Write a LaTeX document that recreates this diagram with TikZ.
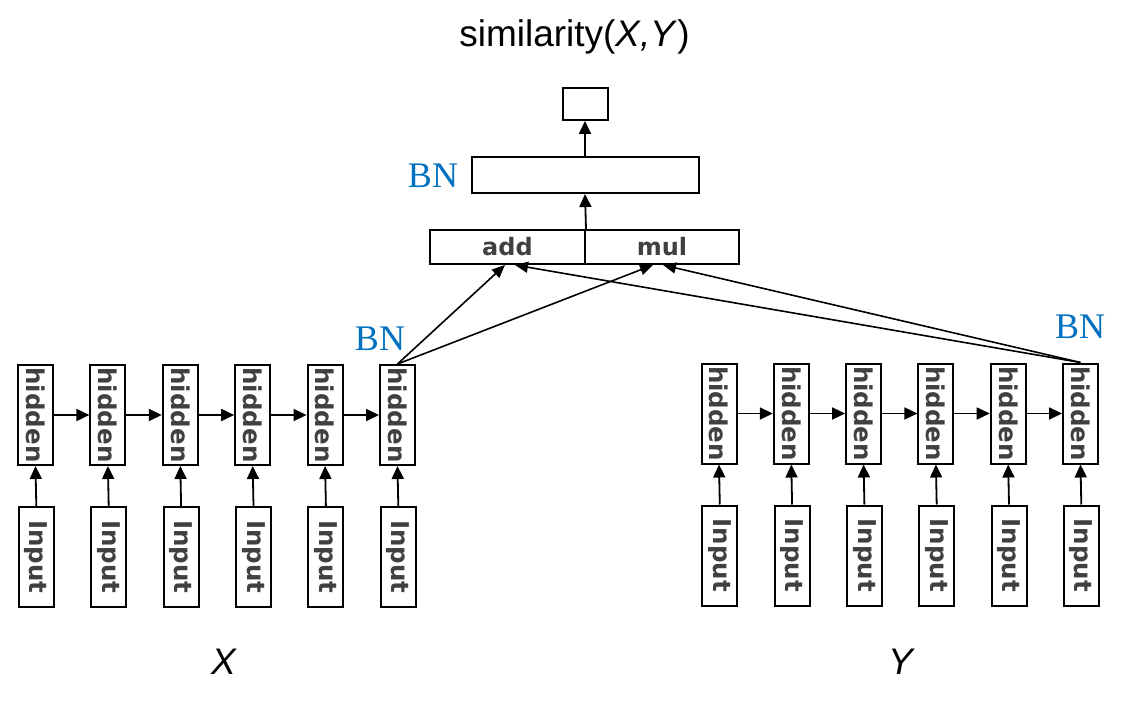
\documentclass[tikz,border=0pt]{standalone}
\usepackage{fontspec}
\setmainfont{Liberation Sans}
\newfontfamily\serifbn{Liberation Serif}
\newfontfamily\boxfont{DejaVu Sans}
\usetikzlibrary{arrows.meta,calc}
\definecolor{bnblue}{HTML}{0070C0}
\definecolor{txtgray}{HTML}{404040}
\begin{document}
\begin{tikzpicture}[x=1bp,y=-1bp,
  cell/.style={draw=black, line width=2bp, minimum width=35bp, minimum height=100bp, inner sep=0pt,
    text=txtgray, font=\boxfont\bfseries\fontsize{24.5bp}{28bp}\selectfont},
  topbox/.style={draw=black, line width=2bp, inner sep=0pt},
  opbox/.style={topbox, minimum height=34bp, text=txtgray, font=\boxfont\bfseries\fontsize{24bp}{28bp}\selectfont},
  arr/.style={-{Triangle[length=13bp,width=12bp]}, line width=1.8bp},
  link/.style={-{Triangle[length=13bp,width=11bp]}, line width=1.6bp},
  bn/.style={font=\serifbn\fontsize{36bp}{40bp}\selectfont, text=bnblue, anchor=base, inner sep=0pt},
  lbl/.style={font=\fontsize{37bp}{42bp}\selectfont, anchor=base, inner sep=0pt}]
\useasboundingbox (0,0) rectangle (1129,707);

% left sequence (X)
\foreach \i in {1,...,6} {
  \pgfmathsetmacro\xx{35.5+72.4*(\i-1)}
  \node[cell] (hl\i) at (\xx,415) {\rotatebox{-90}{hidden}};
  \node[cell] (il\i) at (\xx+0.8,557) {\rotatebox{-90}{Input}};
  \draw[arr] (il\i.north) -- (hl\i.south);
}
\foreach \i/\j in {1/2,2/3,3/4,4/5,5/6}
  \draw[arr] (hl\i) -- (hl\j);

% right sequence (Y)
\foreach \i in {1,...,6} {
  \pgfmathsetmacro\xx{719+72.3*(\i-1)}
  \node[cell] (hr\i) at (\xx,413.5) {\rotatebox{-90}{hidden}};
  \node[cell] (ir\i) at (\xx+0.8,555.5) {\rotatebox{-90}{Input}};
  \draw[arr] (ir\i.north) -- (hr\i.south);
}
\foreach \i/\j in {1/2,2/3,3/4,4/5,5/6}
  \draw[arr] (hr\i) -- (hr\j);

% top part
\node[topbox, minimum width=45bp, minimum height=32bp] (out) at (585,104) {};
\node[topbox, minimum width=227bp, minimum height=36bp] (bnbox) at (585,175) {};
\node[opbox, minimum width=155bp] (add) at (507.5,247) {add};
\node[opbox, minimum width=154bp] (mul) at (662,247) {mul};
\draw[arr] (add.north east) -- (bnbox.south);
\draw[arr] (bnbox.north) -- (out.south);

% links from last hidden states
\draw[link] (hl6.north) -- ($(add.south)+(-2.5,0)$);
\draw[link] (hl6.north) -- ($(mul.south)+(-9,0)$);
\draw[link] (hr6.north) -- ($(add.south)+(7.5,0)$);
\draw[link] (hr6.north) -- ($(mul.south)+(1,0)$);

% labels
\node[bn] (bntop) at (433,188) {BN};
\node[bn] (bnl) at (380,350) {BN};
\node[bn] (bnr) at (1080,338) {BN};
\node[lbl] (sim) at (574.5,47) {similarity(\textit{X,Y})};
\node[lbl, font=\fontsize{37bp}{42bp}\selectfont\itshape] (lx) at (224,674) {X};
\node[lbl, font=\fontsize{37bp}{42bp}\selectfont\itshape] (ly) at (901,674) {Y};
\end{tikzpicture}
\end{document}
